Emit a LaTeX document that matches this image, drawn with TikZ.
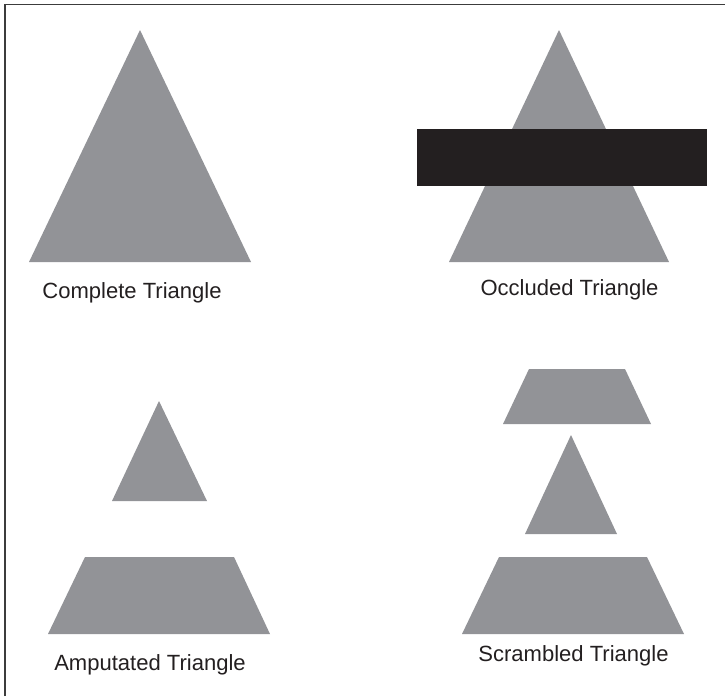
\documentclass[tikz,border=0pt]{standalone}
\usepackage{fontspec}
\setmainfont{Liberation Sans}
\usetikzlibrary{positioning}
\definecolor{ShapeGray}{RGB}{146,147,151}
\definecolor{CoverBlack}{RGB}{35,31,32}
\definecolor{FrameGray}{RGB}{60,60,60}
\tikzset{
  piece/.style={fill=ShapeGray},
  cover/.style={fill=CoverBlack},
  frame/.style={draw=FrameGray,line width=1.5pt},
  lab/.style={anchor=base,inner sep=0pt,text=CoverBlack,font=\fontsize{18.8}{22}\selectfont},
}
\begin{document}
\begin{tikzpicture}[x=0.03cm,y=-0.03cm]
\useasboundingbox (0,0) rectangle (725,696);
\coordinate (f1) at (5,696);
\coordinate (f2) at (5,4.5);
\coordinate (f3) at (725,4.5);
\draw[frame] (f1) -- (f2) -- (f3);
\coordinate (c1) at (140,30);
\coordinate (c2) at (29,262);
\coordinate (c3) at (251,262);
\fill[piece] (c1) -- (c2) -- (c3) -- cycle;
\node[lab] (clab) at (132,298) {Complete Triangle};
\coordinate (o1) at (559,30);
\coordinate (o2) at (449,262);
\coordinate (o3) at (669,262);
\fill[piece] (o1) -- (o2) -- (o3) -- cycle;
\coordinate (b1) at (417,129);
\coordinate (b2) at (707,186);
\fill[cover] (b1) rectangle (b2);
\node[lab] (olab) at (569.5,295) {Occluded Triangle};
\coordinate (a1) at (159,401);
\coordinate (a2) at (112,501);
\coordinate (a3) at (207,501);
\fill[piece] (a1) -- (a2) -- (a3) -- cycle;
\coordinate (a4) at (85,557);
\coordinate (a5) at (234,557);
\coordinate (a6) at (270,634);
\coordinate (a7) at (48,634);
\fill[piece] (a4) -- (a5) -- (a6) -- (a7) -- cycle;
\node[lab] (alab) at (150,670) {Amputated Triangle};
\coordinate (s1) at (529,369);
\coordinate (s2) at (625,369);
\coordinate (s3) at (651,424);
\coordinate (s4) at (503,424);
\fill[piece] (s1) -- (s2) -- (s3) -- (s4) -- cycle;
\coordinate (s5) at (571,435);
\coordinate (s6) at (525,534);
\coordinate (s7) at (617,534);
\fill[piece] (s5) -- (s6) -- (s7) -- cycle;
\coordinate (s8) at (499,557);
\coordinate (s9) at (647,557);
\coordinate (s10) at (684,634);
\coordinate (s11) at (462,634);
\fill[piece] (s8) -- (s9) -- (s10) -- (s11) -- cycle;
\node[lab] (slab) at (573.5,661) {Scrambled Triangle};
\end{tikzpicture}
\end{document}
